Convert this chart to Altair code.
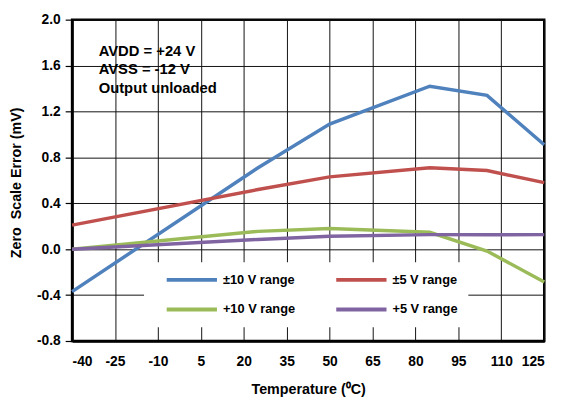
import altair as alt
import pandas as pd

temps = [-40, 25, 50, 85, 105, 125]
pm10 = [-0.37, 0.71, 1.09, 1.42, 1.34, 0.91]
pm5 = [0.21, 0.52, 0.63, 0.71, 0.685, 0.58]
p10 = [0.0, 0.155, 0.18, 0.147, -0.016, -0.285]
p5 = [0.0, 0.085, 0.113, 0.127, 0.125, 0.127]

series = ["±10 V range", "±5 V range", "+10 V range", "+5 V range"]
colors = ["#4F81BD", "#C0504D", "#9BBB59", "#8064A2"]
x_ticks = [-40, -25, -10, 5, 20, 35, 50, 65, 80, 95, 110, 125]
y_ticks = [-0.8, -0.4, 0.0, 0.4, 0.8, 1.2, 1.6, 2.0]
note = ["AVDD = +24 V", "AVSS = -12 V", "Output unloaded"]

rows = []
for name, vals in zip(series, [pm10, pm5, p10, p5]):
    for t, v in zip(temps, vals):
        rows.append({"temp": t, "value": v, "series": name})
df = pd.DataFrame(rows)

FONT = "Liberation Sans"
HYPHEN = "replace(datum.label, '\u2212', '-')"
PAD = "\u00a0" * 9

lines = alt.Chart(df).mark_line(strokeWidth=3.5).encode(
    x=alt.X(
        "temp:Q",
        scale=alt.Scale(domain=[-40, 125], nice=False, zero=False),
        axis=alt.Axis(
            values=x_ticks,
            title="Temperature (\u2070C)",
            ticks=False,
            labelPadding=14,
            labelExpr=HYPHEN,
            titleY=53,
            titleBaseline="alphabetic",
        ),
    ),
    y=alt.Y(
        "value:Q",
        scale=alt.Scale(domain=[-0.8, 2.0], nice=False, zero=False),
        axis=alt.Axis(
            values=y_ticks,
            format=".1f",
            labelExpr=HYPHEN,
            title="Zero\u00a0 Scale Error (mV)",
            tickSize=7,
            labelPadding=5,
            titleX=-56,
            titleY=165,
            titleAlign="center",
            titleBaseline="middle",
            titleAngle=-90,
        ),
    ),
    color=alt.Color(
        "series:N",
        scale=alt.Scale(domain=series, range=colors),
        legend=alt.Legend(
            orient="none",
            legendX=73,
            legendY=246,
            columns=2,
            direction="horizontal",
            title=None,
            symbolType="stroke",
            symbolSize=2601,
            symbolStrokeWidth=4,
            clipHeight=16,
            rowPadding=14,
            columnPadding=28,
            padding=10,
            symbolOffset=11,
            labelOffset=4,
            labelFont=FONT,
            labelFontSize=13,
            labelFontWeight="bold",
            labelColor="black",
            fillColor="white",
            labelExpr="indexof(datum.label, '5 V') >= 0 ? datum.label + '" + PAD + "' : datum.label",
        ),
    ),
)

notes = alt.Chart(pd.DataFrame({"t": ["\n".join(note)]})).mark_text(
    lineBreak="\n",
    align="left",
    baseline="alphabetic",
    font=FONT,
    fontSize=15,
    fontWeight="bold",
    lineHeight=18.5,
    color="black",
).encode(x=alt.datum(-30.7), y=alt.datum(1.682), text="t:N")

chart = (
    alt.layer(lines, notes)
    .properties(
        width=479,
        height=326,
        autosize=alt.AutoSizeParams(type="none"),
        padding={"left": 65, "top": 9, "right": 16, "bottom": 55},
    )
    .configure_axis(
        labelFont=FONT,
        labelFontSize=14,
        labelFontWeight="bold",
        labelColor="black",
        titleFont=FONT,
        titleFontSize=14.5,
        titleFontWeight="bold",
        titleColor="black",
        domainColor="black",
        domainWidth=2.5,
        gridColor="#111",
        gridWidth=1,
        gridOpacity=1,
        tickColor="black",
        tickWidth=1.2,
    )
    .configure_view(stroke="black", strokeWidth=2.5)
)

chart.save("out.html", embed_options={"renderer": "svg", "actions": False})
